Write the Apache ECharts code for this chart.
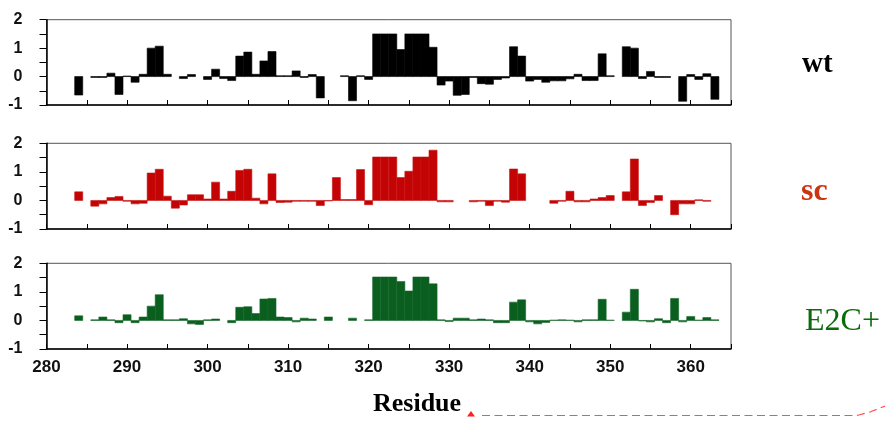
<!DOCTYPE html>
<html>
<head>
<meta charset="utf-8">
<script src="https://cdn.jsdelivr.net/npm/echarts@6/dist/echarts.min.js"></script>
<style>html,body{margin:0;padding:0;background:#fff}#c{width:885px;height:421px}</style>
</head>
<body>
<div id="c"></div>
<script>
// Residue numbers (284..363)
var residueStart = 284;
var axisMin = 280, axisMax = 365;
var panelNames = ['wt', 'sc', 'E2C+'];
var xTickLabels = [280, 290, 300, 310, 320, 330, 340, 350, 360];
var yTickLabels = [-1, 0, 1, 2];

var wtValues = [
  -0.65, null, -0.03, -0.03, 0.12, -0.63, 0.02, -0.2, 0.08, 1.0,
  1.07, 0.08, null, -0.07, 0.07, null, -0.1, 0.26, -0.07, -0.14,
  0.72, 0.86, 0.08, 0.55, 0.88, 0.03, 0.03, 0.2, -0.03, 0.07,
  -0.75, null, null, 0.03, -0.85, 0.03, -0.1, 1.5, 1.5, 1.5,
  0.95, 1.5, 1.5, 1.5, 1.03, -0.3, -0.16, -0.66, -0.63, -0.03,
  -0.25, -0.27, -0.1, -0.05, 1.05, 0.72, -0.16, -0.1, -0.2, -0.15,
  -0.15, -0.08, 0.08, -0.14, -0.14, 0.8, 0.03, null, 1.05, 1.0,
  -0.07, 0.18, -0.03, -0.03, null, -0.87, 0.07, -0.1, 0.1, -0.8
];
var scValues = [
  0.3, null, -0.2, -0.12, 0.1, 0.14, -0.03, -0.12, -0.1, 0.96,
  1.09, 0.15, -0.27, -0.16, 0.2, 0.2, 0.05, 0.64, 0.05, 0.32,
  1.05, 1.09, 0.08, -0.12, 0.93, -0.07, -0.06, -0.03, -0.03, -0.03,
  -0.18, -0.02, 0.8, 0.03, 0.03, 1.08, -0.15, 1.52, 1.52, 1.52,
  0.8, 1.02, 1.52, 1.52, 1.76, -0.05, -0.05, null, null, -0.05,
  -0.03, -0.18, -0.03, -0.06, 1.1, 0.93, null, null, null, -0.1,
  -0.03, 0.32, -0.05, -0.05, 0.05, 0.1, 0.17, null, 0.3, 1.45,
  -0.18, -0.07, 0.17, null, -0.5, -0.12, -0.12, 0.02, -0.03, null
];
var e2cValues = [
  0.16, null, 0.02, 0.12, 0.02, -0.08, 0.2, -0.08, 0.12, 0.5,
  0.9, 0.02, 0.02, 0.06, -0.12, -0.14, 0.02, 0.05, null, -0.08,
  0.46, 0.48, 0.24, 0.75, 0.77, 0.12, 0.1, -0.05, 0.08, 0.05,
  null, 0.12, null, null, 0.08, null, 0.02, 1.52, 1.52, 1.52,
  1.36, 1.03, 1.52, 1.52, 1.28, 0.02, -0.04, 0.08, 0.08, 0.02,
  0.05, 0.02, -0.08, -0.08, 0.64, 0.72, -0.05, -0.12, -0.07, 0.01,
  0.02, 0.01, -0.05, 0.02, 0.02, 0.74, 0.01, null, 0.29, 1.09,
  -0.02, -0.05, 0.06, -0.08, 0.77, -0.05, 0.14, 0.01, 0.1, 0.02
];

var seriesValues = [wtValues, scValues, e2cValues];
var barColors = ['#000000', '#c40404', '#0a5f1e'];
var barBorders = ['#000000', '#c81414', '#14662a'];
var labelColors = ['#000000', '#cc3311', '#0b6b0b'];

function toPairs(vals) {
  var out = [];
  for (var i = 0; i < vals.length; i++) {
    if (vals[i] !== null) out.push([residueStart + i, vals[i]]);
  }
  return out;
}

function makeRenderer(p) {
  return function (params, api) {
    var x = api.value(0), v = api.value(1);
    var a = api.coord([x - 0.5, 0]);
    var b = api.coord([x + 0.5, v]);
    return {
      type: 'rect',
      shape: {x: a[0], y: Math.min(a[1], b[1]), width: b[0] - a[0], height: Math.abs(b[1] - a[1])},
      style: {fill: barColors[p], stroke: barBorders[p], lineWidth: 0.6}
    };
  };
}

var gridTops = [19.7, 143.3, 263.3];
var gridHeights = [85.3, 85.7, 85.7];

var grids = [], xAxes = [], yAxes = [], series = [];
for (var p = 0; p < 3; p++) {
  grids.push({left: 46.5, right: 154, top: gridTops[p], height: gridHeights[p],
    show: true, borderColor: '#555', borderWidth: 1, backgroundColor: 'transparent'});
  xAxes.push({
    type: 'value', gridIndex: p, min: axisMin, max: axisMax, interval: 5,
    axisLine: {show: true, onZero: false, lineStyle: {color: '#000', width: 1.5}},
    axisTick: {show: true, inside: true, length: 5, lineStyle: {color: '#000', width: 1}},
    splitLine: {show: false},
    axisLabel: {
      show: p === 2, margin: 10,
      fontFamily: 'Liberation Sans, Arial, sans-serif', fontWeight: 'bold', fontSize: 17, color: '#111',
      formatter: function (v) { return xTickLabels.indexOf(v) >= 0 ? String(v) : ''; }
    }
  });
  yAxes.push({
    type: 'value', gridIndex: p, min: -1, max: 2, interval: 0.5,
    axisLine: {show: true, lineStyle: {color: '#000', width: 1.5}},
    axisTick: {show: true, inside: false, length: 7, lineStyle: {color: '#000', width: 1}},
    splitLine: {show: false},
    axisLabel: {
      margin: 24,
      fontFamily: 'Liberation Sans, Arial, sans-serif', fontWeight: 'bold', fontSize: 16, color: '#111',
      formatter: function (v) { return yTickLabels.indexOf(v) >= 0 ? String(v) : ''; }
    }
  });
  series.push({
    type: 'custom', xAxisIndex: p, yAxisIndex: p, name: panelNames[p],
    data: toPairs(seriesValues[p]), renderItem: makeRenderer(p),
    encode: {x: 0, y: 1}, clip: true, z: 1,
    emphasis: {disabled: true}, animation: false
  });
}

var chart = echarts.init(document.getElementById('c'), null, {renderer: 'canvas'});
chart.setOption({
  animation: false,
  backgroundColor: '#fff',
  grid: grids, xAxis: xAxes, yAxis: yAxes, series: series,
  graphic: [
    {type: 'text', left: 802, top: 50, style: {text: panelNames[0], fill: labelColors[0],
      font: 'bold 29px "Liberation Serif", "Times New Roman", serif'}},
    {type: 'text', left: 801, top: 176, style: {text: panelNames[1], fill: labelColors[1],
      font: 'bold 32px "Liberation Serif", "Times New Roman", serif'}},
    {type: 'text', left: 805, top: 306, style: {text: panelNames[2], fill: labelColors[2],
      font: '32px "Liberation Serif", "Times New Roman", serif'}},
    {type: 'text', left: 373, top: 391, style: {text: 'Residue', fill: '#000',
      font: 'bold 26px "Liberation Serif", "Times New Roman", serif'}},
    {type: 'polygon', shape: {points: [[467, 416.5], [475, 416.5], [471, 411]]}, style: {fill: '#ff2020'}},
    {type: 'polyline', shape: {points: [[482, 415.5], [857, 415.5], [870, 412], [885, 406]]},
      style: {stroke: '#ff5050', lineWidth: 1.2, lineDash: [8, 4.5], fill: null}}
  ]
});
</script>
</body>
</html>
